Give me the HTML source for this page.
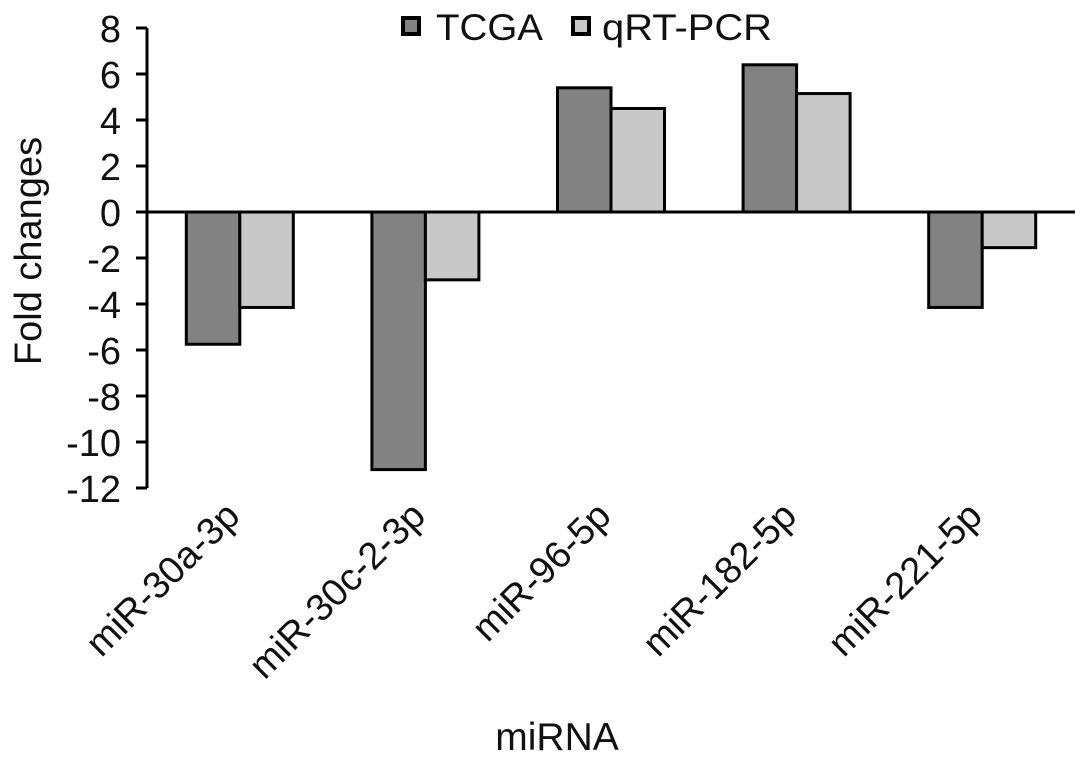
<!DOCTYPE html>
<html><head><style>
body{margin:0;background:#fff}
svg text{font-family:"Liberation Sans",Arial,sans-serif;fill:#111}
</style></head><body>
<svg width="1087" height="759" xmlns="http://www.w3.org/2000/svg">
<g id="plot"></g>
</svg>
<script>
const categories=["miR-30a-3p","miR-30c-2-3p","miR-96-5p","miR-182-5p","miR-221-5p"];
const tcga=[-5.75,-11.2,5.4,6.4,-4.15];
const qpcr=[-4.15,-2.95,4.5,5.15,-1.55];
const ticks=[8,6,4,2,0,-2,-4,-6,-8,-10,-12];
const NS="http://www.w3.org/2000/svg";
const g=document.getElementById('plot');
const x0=147,x1=1075,y0val=212,pxPer=23;
const y=v=>y0val-v*pxPer;
const gw=(x1-x0)/categories.length,bw=53.5;
function el(t,a,txt){const e=document.createElementNS(NS,t);for(const k in a)e.setAttribute(k,a[k]);if(txt!==undefined)e.textContent=txt;g.appendChild(e);return e;}
categories.forEach((c,i)=>{
 const cx=x0+gw*(i+0.5);
 [[tcga[i],'#828282',cx-bw],[qpcr[i],'#c8c8c8',cx]].forEach(([v,f,bx],j)=>{
  const r=el('rect',{x:bx,y:Math.min(y(v),y(0)),width:bw,height:Math.abs(y(v)-y(0)),fill:f,stroke:'#000','stroke-width':3});
  
  
 });
 const ax_=cx+2,ay_=518;
 const t=el('text',{x:ax_,y:ay_,'text-anchor':'end','font-size':38,transform:`rotate(-45 ${ax_} ${ay_})`},c);
 
 
});
const ax=el('line',{x1:x0,y1:y(8),x2:x0,y2:y(-12),stroke:'#000','stroke-width':3});


const zx=el('line',{x1:x0,y1:y(0),x2:x1,y2:y(0),stroke:'#000','stroke-width':3});


ticks.forEach(v=>{
 const l=el('line',{x1:x0-11,y1:y(v),x2:x0,y2:y(v),stroke:'#000','stroke-width':3});
 
 
 const t=el('text',{x:x0-26,y:y(v)+14,'text-anchor':'end','font-size':38},String(v));
 
 
});
[['TCGA','#828282',403,436,107],['qRT-PCR','#c8c8c8',573,602,170]].forEach(([n,f,lx,tx,tw])=>{
 const r=el('rect',{x:lx,y:18,width:16,height:16,fill:f,stroke:'#000','stroke-width':4});
 
 
 const t=el('text',{x:tx,y:40,'font-size':37,textLength:tw,lengthAdjust:'spacingAndGlyphs'},n);
 
 
});
const yt=el('text',{x:41,y:251,'text-anchor':'middle','font-size':38,transform:'rotate(-90 41 251)'},'Fold changes');


const xt=el('text',{x:557,y:750,'text-anchor':'middle','font-size':39},'miRNA');


</script>
</body></html>
